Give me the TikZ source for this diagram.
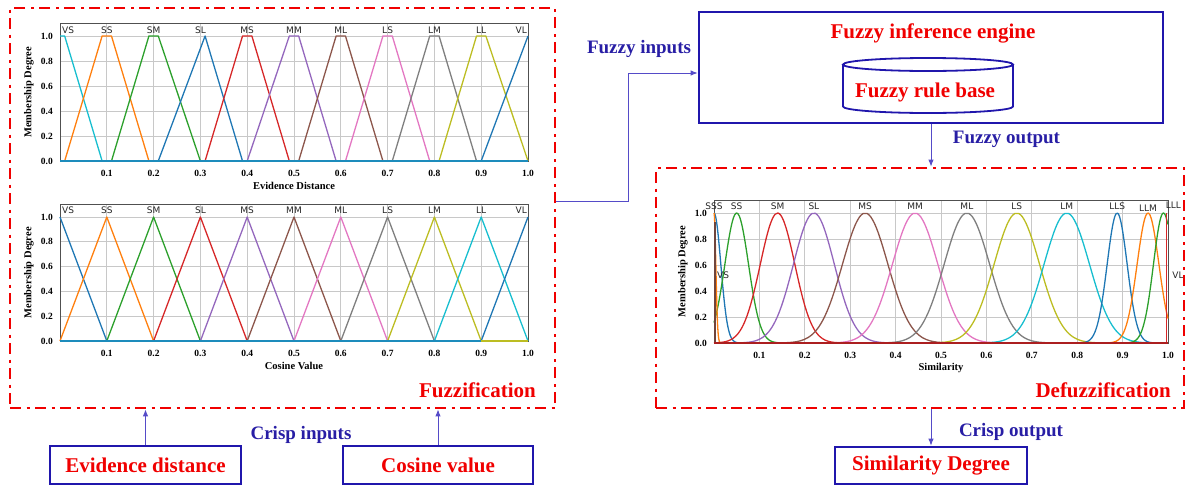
\documentclass[tikz,border=0pt]{standalone}
\usepackage{fontspec}
\setmainfont{Liberation Serif}
\newfontfamily\mplfont{DejaVu Sans}
\usetikzlibrary{arrows.meta,calc}
\definecolor{tabblue}{HTML}{1F77B4}
\definecolor{taborange}{HTML}{FF7F0E}
\definecolor{tabgreen}{HTML}{2CA02C}
\definecolor{tabred}{HTML}{D62728}
\definecolor{tabpurple}{HTML}{9467BD}
\definecolor{tabbrown}{HTML}{8C564B}
\definecolor{tabpink}{HTML}{E377C2}
\definecolor{tabgray}{HTML}{7F7F7F}
\definecolor{tabolive}{HTML}{BCBD22}
\definecolor{tabcyan}{HTML}{17BECF}
\definecolor{boxblue}{RGB}{32,22,172}
\definecolor{txtblue}{RGB}{40,30,165}
\definecolor{arrblue}{RGB}{85,75,200}
\definecolor{boxred}{RGB}{240,0,0}
\definecolor{gridc}{RGB}{200,200,200}
\definecolor{framec}{RGB}{80,80,80}

\newcommand{\plotaxes}[2]{%
  \foreach \g in {0.1,0.2,0.3,0.4,0.5,0.6,0.7,0.8,0.9} \draw[gridl] (\g,0) -- (\g,1.1);
  \foreach \g in {0.2,0.4,0.6,0.8,1.0} \draw[gridl] (0,\g) -- (1,\g);
  \draw[framel] (0,0) rectangle (1,1.1);
  \foreach \v [count=\i] in {0.1,0.2,0.3,0.4,0.5,0.6,0.7,0.8,0.9,1.0}
    \node[tick, anchor=base] (#2x\i) at ([yshift=-15pt]\v,0) {\v};
  \foreach \v [count=\i] in {0.0,0.2,0.4,0.6,0.8,1.0}
    \node[tick, anchor=east] (#2y\i) at ([xshift=-7pt]0,\v) {\v};
  \node[axlab] (#2xl) at ([yshift=-25pt]0.5,0) {#1};
  \node[axlab, rotate=90] (#2yl) at ([xshift=-31pt]0,0.55) {Membership Degree};
}
\newcommand{\gaussmf}[5]{%
  \draw[#1, mf] plot[domain=#2:#3, samples=50, smooth] (\x,{exp(-0.5*((\x-(#4))/(#5))^2)});
}

\begin{document}
\begin{tikzpicture}[x=1pt, y=-1pt,
  redbox/.style={draw=boxred, line width=2.8pt, dash pattern=on 11pt off 5.5pt on 3pt off 5.5pt, inner sep=0pt},
  bluebox/.style={draw=boxblue, line width=2.7pt, inner sep=0pt},
  redtxt/.style={text=boxred, font=\fontsize{21}{24}\selectfont\bfseries},
  bluetxt/.style={text=txtblue, font=\fontsize{19}{22}\selectfont\bfseries, inner sep=0pt},
  arr/.style={draw=arrblue, line width=0.9pt, -{Latex[length=7pt,width=5.5pt]}},
  mf/.style={line width=1.3pt, line join=round},
  gridl/.style={draw=gridc, line width=0.7pt},
  framel/.style={draw=framec, line width=0.8pt},
  tick/.style={font=\fontsize{9.5}{10}\selectfont\bfseries, inner sep=0pt},
  axlab/.style={font=\fontsize{10.5}{12}\selectfont\bfseries, inner sep=0pt},
  mflab/.style={font=\mplfont\fontsize{9}{10}\selectfont, inner sep=0pt, text=black!85},
]
\useasboundingbox (0,0) rectangle (1187,488);

% ---------- top chart: Evidence Distance ----------
\begin{scope}[shift={(60pt,-161pt)}, x=468pt, y=125pt]
  \plotaxes{Evidence Distance}{a}
  \draw[tabcyan, mf] (0,1) -- (0.01,1) -- (0.09,0);
  \draw[taborange, mf] (0.01,0) -- (0.09,1) -- (0.11,1) -- (0.19,0);
  \draw[tabgreen, mf] (0.11,0) -- (0.19,1) -- (0.21,1) -- (0.30,0);
  \draw[tabblue, mf] (0.21,0) -- (0.31,1) -- (0.39,0);
  \draw[tabred, mf] (0.31,0) -- (0.39,1) -- (0.41,1) -- (0.49,0);
  \draw[tabpurple, mf] (0.40,0) -- (0.49,1) -- (0.51,1) -- (0.59,0);
  \draw[tabbrown, mf] (0.51,0) -- (0.59,1) -- (0.61,1) -- (0.69,0);
  \draw[tabpink, mf] (0.61,0) -- (0.69,1) -- (0.71,1) -- (0.79,0);
  \draw[tabgray, mf] (0.71,0) -- (0.79,1) -- (0.81,1) -- (0.89,0);
  \draw[tabolive, mf] (0.81,0) -- (0.89,1) -- (0.91,1) -- (1.0,0);
  \draw[tabblue, mf] (0.90,0) -- (1.0,1);
  \draw[tabblue!70!tabcyan, line width=1.6pt] (0,0) -- (1,0);
  \node[mflab, anchor=base west] (al0) at ([xshift=2pt,yshift=3pt]0,1) {VS};
  \foreach \p/\t [count=\i] in {0.1/SS,0.2/SM,0.3/SL,0.4/MS,0.5/MM,0.6/ML,0.7/LS,0.8/LM,0.9/LL}
    \node[mflab, anchor=base] (al\i) at ([yshift=3pt]\p,1) {\t};
  \node[mflab, anchor=base east] (al10) at ([xshift=-1pt,yshift=3pt]1,1) {VL};
\end{scope}

% ---------- bottom chart: Cosine Value ----------
\begin{scope}[shift={(60pt,-341pt)}, x=468pt, y=124pt]
  \plotaxes{Cosine Value}{b}
  \draw[tabblue, mf] (0,1) -- (0.1,0);
  \draw[taborange, mf] (0,0) -- (0.1,1) -- (0.2,0);
  \draw[tabgreen, mf] (0.1,0) -- (0.2,1) -- (0.3,0);
  \draw[tabred, mf] (0.2,0) -- (0.3,1) -- (0.4,0);
  \draw[tabpurple, mf] (0.3,0) -- (0.4,1) -- (0.5,0);
  \draw[tabbrown, mf] (0.4,0) -- (0.5,1) -- (0.6,0);
  \draw[tabpink, mf] (0.5,0) -- (0.6,1) -- (0.7,0);
  \draw[tabgray, mf] (0.6,0) -- (0.7,1) -- (0.8,0);
  \draw[tabolive, mf] (0.7,0) -- (0.8,1) -- (0.9,0);
  \draw[tabcyan, mf] (0.8,0) -- (0.9,1) -- (1.0,0);
  \draw[tabblue, mf] (0.9,0) -- (1.0,1);
  \draw[tabblue!70!tabcyan, line width=1.6pt] (0,0) -- (0.9,0);
  \draw[tabolive, line width=1.6pt] (0.9,0) -- (1,0);
  \node[mflab, anchor=base west] (bl0) at ([xshift=2pt,yshift=3.5pt]0,1) {VS};
  \foreach \p/\t [count=\i] in {0.1/SS,0.2/SM,0.3/SL,0.4/MS,0.5/MM,0.6/ML,0.7/LS,0.8/LM,0.9/LL}
    \node[mflab, anchor=base] (bl\i) at ([yshift=3.5pt]\p,1) {\t};
  \node[mflab, anchor=base east] (bl10) at ([xshift=-1pt,yshift=3.5pt]1,1) {VL};
\end{scope}

% ---------- similarity chart ----------
\begin{scope}[shift={(714pt,-343pt)}, x=454pt, y=130pt]
  \plotaxes{Similarity}{c}
  \gaussmf{tabblue}{0}{0.06}{0}{0.015}
  \gaussmf{tabgreen}{0}{0.16}{0.05}{0.026}
  \gaussmf{tabred}{0}{0.3}{0.14}{0.038}
  \gaussmf{tabpurple}{0.04}{0.4}{0.22}{0.045}
  \gaussmf{tabbrown}{0.133}{0.533}{0.333}{0.05}
  \gaussmf{tabpink}{0.243}{0.643}{0.443}{0.05}
  \gaussmf{tabgray}{0.357}{0.757}{0.557}{0.05}
  \gaussmf{tabolive}{0.467}{0.867}{0.667}{0.05}
  \gaussmf{tabcyan}{0.577}{0.977}{0.777}{0.05}
  \gaussmf{tabblue}{0.8}{0.976}{0.888}{0.022}
  \gaussmf{taborange}{0.86}{1}{0.956}{0.024}
  \gaussmf{tabgreen}{0.9}{1}{0.99}{0.022}
  \gaussmf{taborange}{0}{0.016}{0}{0.004}
  \draw[tabbrown!80!black, mf] (0.002,0) -- (0.002,0.93);
  \draw[tabred, mf] (0.997,0) -- (0.997,1);
  \draw[tabred!80!black, line width=1.6pt] (0,0) -- (1,0);
  \node[mflab, anchor=base] (cl0) at ([yshift=4pt]0,1) {SSS};
  \foreach \p/\t [count=\i] in {0.05/SS,0.14/SM,0.22/SL,0.333/MS,0.443/MM,0.557/ML,0.667/LS,0.777/LM,0.888/LLS}
    \node[mflab, anchor=base] (cl\i) at ([yshift=3.5pt]\p,1) {\t};
  \node[mflab, anchor=base] (cl10) at ([yshift=1.5pt]0.956,1) {LLM};
  \node[mflab, anchor=base] (cl11) at ([yshift=5pt]1.012,1) {LLL};
  \node[mflab] (cl12) at (0.02,0.523) {VS};
  \node[mflab] (cl13) at (1.022,0.52) {VL};
\end{scope}

% ---------- boxes ----------
\node[redbox, minimum width=545pt, minimum height=400pt] (fuzz) at (282.5,208) {};
\node[redbox, minimum width=528pt, minimum height=240pt] (defuzz) at (920,288) {};
\node[bluebox, minimum width=464pt, minimum height=111pt] (engine) at (931,67.5) {};

\node[redtxt, anchor=base, inner sep=0pt] (engtxt) at (933,38) {Fuzzy inference engine};
% rule base cylinder
\draw[boxblue, line width=1.8pt] (843,64.5) -- (843,106.5)
  arc[start angle=180, end angle=360, x radius=85pt, y radius=6.5pt] -- (1013,64.5);
\draw[boxblue, line width=1.8pt] (928,64.5) ellipse [x radius=85pt, y radius=6.5pt];
\node[redtxt, anchor=base, inner sep=0pt] (rbtxt) at (925,97) {Fuzzy rule base};

\node[redtxt, anchor=base east, inner sep=0pt] (fuzzlab) at (536,397) {Fuzzification};
\node[redtxt, anchor=base east, inner sep=0pt] (defuzzlab) at (1171,397) {Defuzzification};

\node[bluebox, redtxt, minimum width=191pt, minimum height=38pt] (ev) at (145.5,465) {Evidence distance};
\node[bluebox, redtxt, minimum width=190pt, minimum height=38pt] (cv) at (438,465) {Cosine value};
\node[bluebox, redtxt, minimum width=192pt, minimum height=37pt] (sim) at (931,465.5) {Similarity Degree};

\node[bluetxt, anchor=base] (fin) at (639,53) {Fuzzy inputs};
\node[bluetxt, anchor=base] (fout) at (1006.5,143) {Fuzzy output};
\node[bluetxt, anchor=base] (cin) at (301,439) {Crisp inputs};
\node[bluetxt, anchor=base] (cout) at (1011,436) {Crisp output};

% ---------- connectors ----------
\draw[arr] ([yshift=7pt]fuzz.east) -- ++(72,0) |- ([yshift=-5.5pt]engine.west);
\draw[arr] (engine.south) -- (engine.south |- defuzz.north);
\draw[arr] (ev.north) -- (ev.north |- fuzz.south);
\draw[arr] (cv.north) -- (cv.north |- fuzz.south);
\draw[arr] (sim.north |- defuzz.south) -- (sim.north);
\end{tikzpicture}
\end{document}
